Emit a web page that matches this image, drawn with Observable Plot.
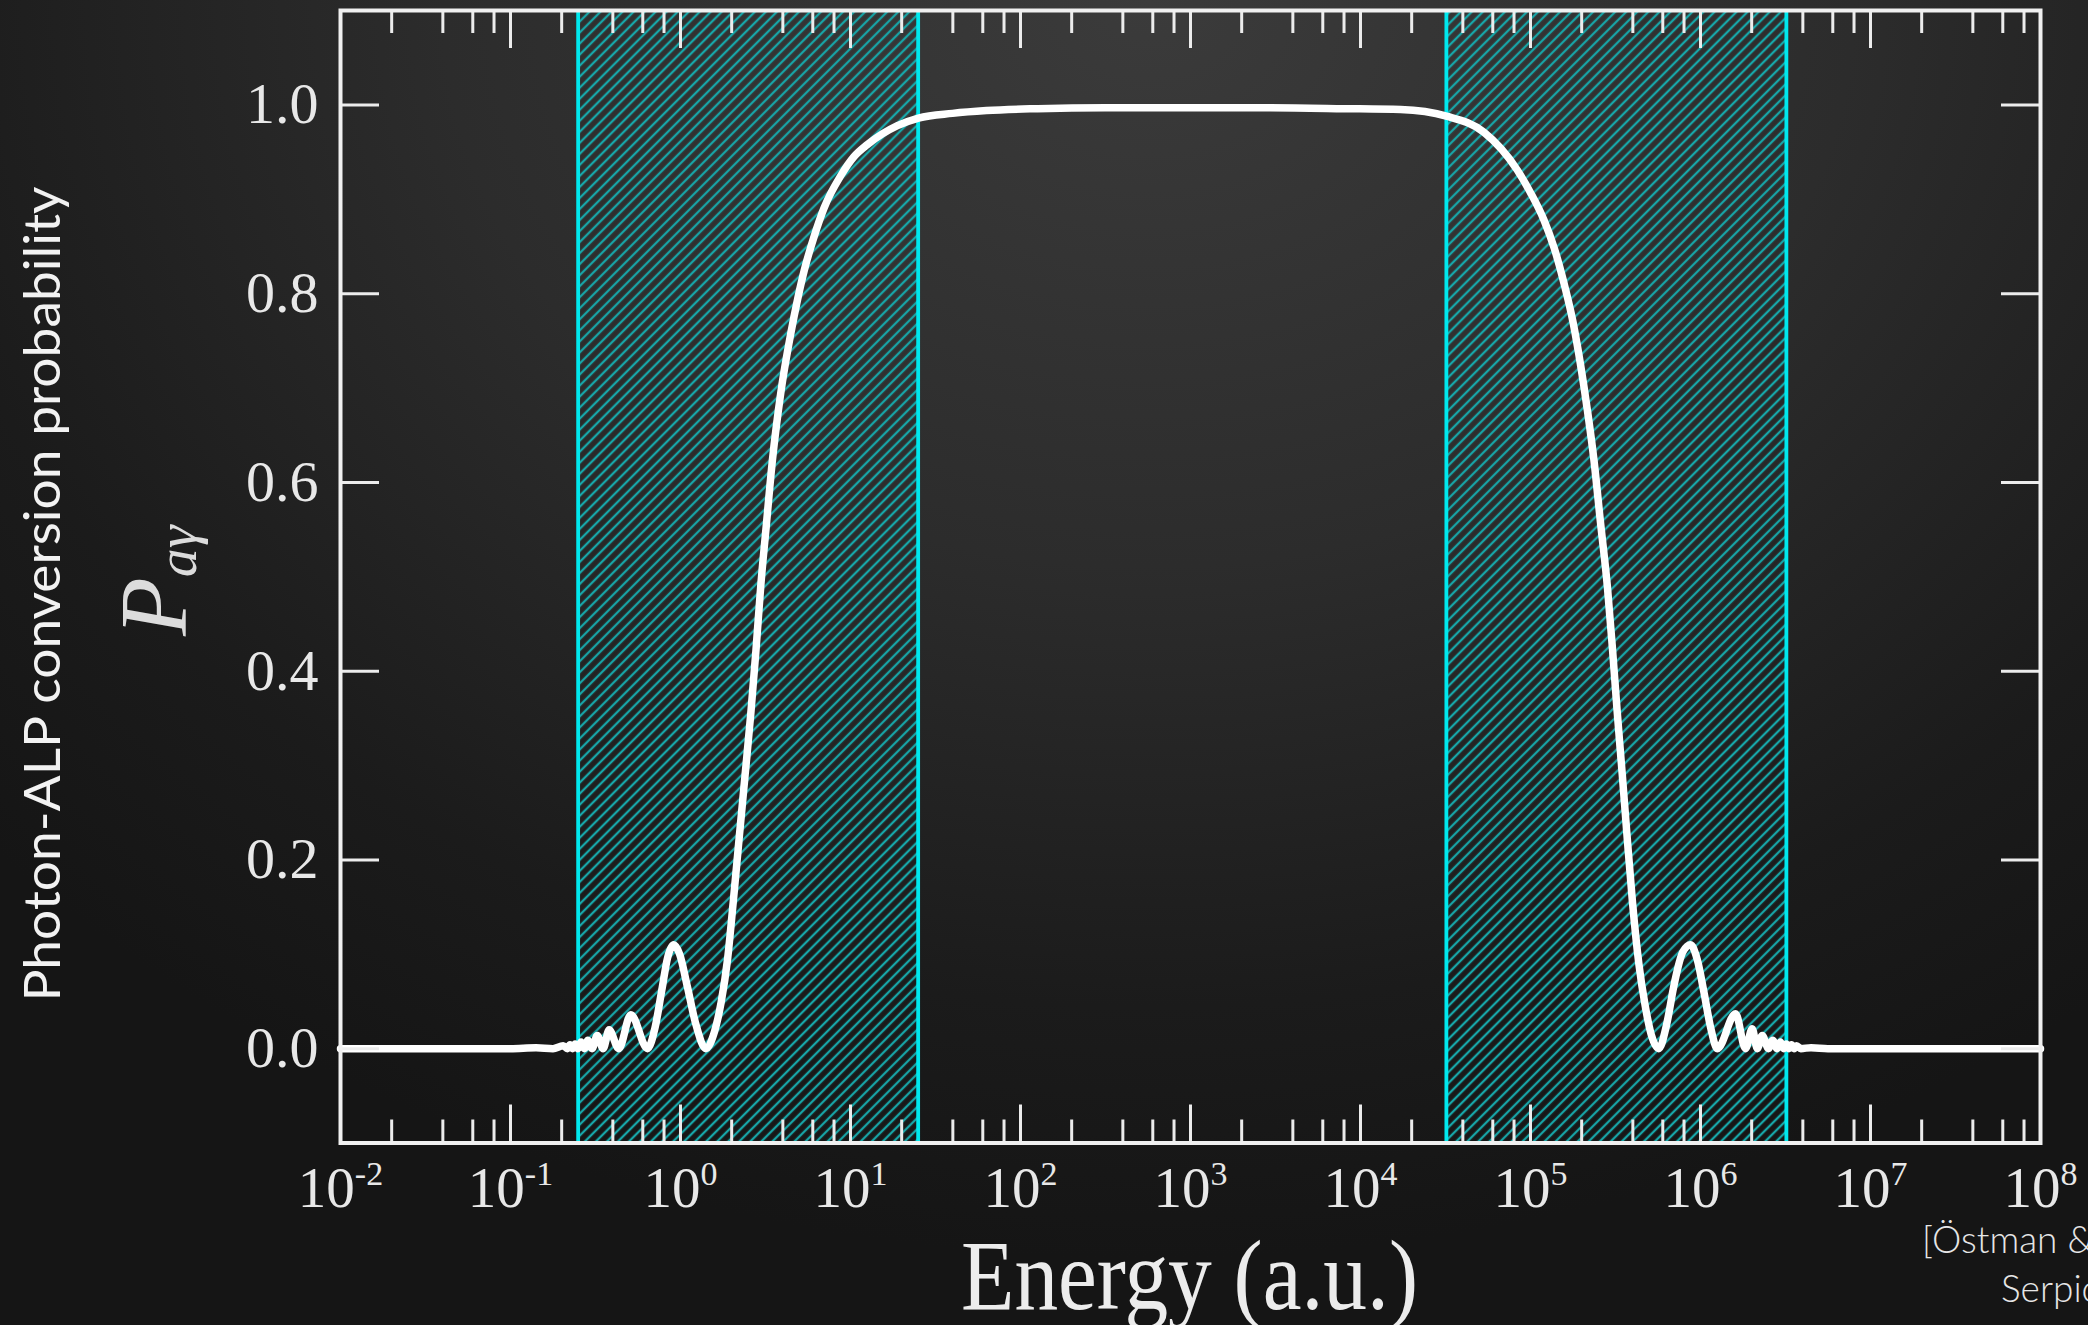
<!DOCTYPE html>
<html>
<head>
<meta charset="utf-8">
<script src="https://cdn.jsdelivr.net/npm/d3@7"></script>
<script src="https://cdn.jsdelivr.net/npm/@observablehq/plot@0.6"></script>
<style>
  html, body { margin: 0; padding: 0; }
  body {
    width: 2088px; height: 1325px; overflow: hidden; position: relative;
    background: radial-gradient(ellipse 75% 95% at 55% 0%, #3b3b3b 0%, #2c2c2c 45%, #1b1b1b 80%, #151515 100%);
  }
  #chart { position: absolute; left: 0; top: 0; }
  .cite { position: absolute; font-family: Lato, "Open Sans", sans-serif; font-weight: 300; font-size: 37px; line-height: 44px; color: #e6e6e6; white-space: nowrap; }
</style>
</head>
<body>
<div id="chart"></div>
<div class="cite" style="left:1922px; top:1217px;">[Östman &amp; Mörtsell</div>
<div class="cite" style="left:2001px; top:1266px;">Serpico]</div>
<script>
// ---- data ----
const logEnergy = [
  -2.00, -1.50, -1.00, -0.85, -0.75, -0.69, -0.665, -0.65, -0.635, -0.62, -0.603, -0.585, -0.565, -0.545, -0.52,
  -0.49, -0.455, -0.42, -0.363, -0.292, -0.194, -0.15, -0.11, -0.075, -0.040, -0.005, 0.04, 0.09, 0.149,
  0.20, 0.24, 0.277, 0.31, 0.345, 0.38, 0.414, 0.443, 0.472, 0.505, 0.541, 0.59, 0.649, 0.69, 0.727, 0.785,
  0.845, 0.943, 1.02, 1.10, 1.276, 1.40, 1.60, 1.80, 2.10, 2.50, 2.95, 3.40, 3.90, 4.236,
  4.505, 4.726, 4.922, 5.00, 5.079, 5.14, 5.197, 5.25, 5.295, 5.335, 5.373, 5.412, 5.452, 5.482, 5.510,
  5.540, 5.569, 5.60, 5.638, 5.675, 5.71, 5.755, 5.80, 5.845, 5.895, 5.942, 5.98, 6.02, 6.06, 6.099,
  6.206, 6.265, 6.304, 6.334, 6.363, 6.40, 6.425, 6.45, 6.47, 6.49, 6.505, 6.52, 6.535, 6.55, 6.565, 6.59,
  6.65, 6.75, 7.00, 8.00
];
const probability = [
  0, 0, 0, 0.001, 0.000, 0.003, 0.000, 0.004, 0.000, 0.005, 0.000, 0.007, 0.000, 0.009, 0.000,
  0.014, 0.000, 0.020, 0.000, 0.036, 0.000, 0.022, 0.062, 0.097, 0.110, 0.100, 0.066, 0.026, 0.000,
  0.018, 0.050, 0.095, 0.155, 0.223, 0.290, 0.356, 0.420, 0.490, 0.555, 0.624, 0.695, 0.758, 0.795, 0.824, 0.860,
  0.891, 0.925, 0.945, 0.958, 0.978, 0.986, 0.991, 0.994, 0.996, 0.997, 0.997, 0.997, 0.996, 0.995,
  0.988, 0.971, 0.931, 0.907, 0.878, 0.848, 0.811, 0.770, 0.724, 0.676, 0.624, 0.557, 0.490, 0.424, 0.357,
  0.290, 0.223, 0.155, 0.089, 0.045, 0.015, 0.000, 0.025, 0.068, 0.102, 0.110, 0.095, 0.060, 0.022, 0.000,
  0.037, 0.000, 0.021, 0.000, 0.014, 0.000, 0.009, 0.000, 0.007, 0.000, 0.005, 0.000, 0.004, 0.000, 0.003, 0.000,
  0.001, 0.000, 0, 0
];
const bandStart = [0.25, 3.2e4];
const bandEnd = [25, 3.2e6];
const decadeTicks = [1e-2, 1e-1, 1e0, 1e1, 1e2, 1e3, 1e4, 1e5, 1e6, 1e7, 1e8];
const minorMantissas = [2, 4, 6, 8];
const yTicks = [0, 0.2, 0.4, 0.6, 0.8, 1.0];
const xTitle = "Energy (a.u.)";
const yTitleMain = "P";
const yTitleSub = "aγ";
const sideTitle = "Photon-ALP conversion probability";

// ---- derived tables ----
const curve = logEnergy.map((l, i) => ({E: Math.pow(10, l), P: probability[i]}));
const bands = bandStart.map((s, i) => ({lo: s, hi: bandEnd[i]}));
const bandEdges = [...bandStart, ...bandEnd];
const minorTicks = decadeTicks.slice(0, -1).flatMap(d => minorMantissas.map(m => m * d));

const W = 2088, H = 1325;
const mL = 340, mR = 48, mT = 10, mB = 182.5;
const innerW = W - mL - mR, innerH = H - mT - mB;
const tickCol = "#ececec";
const majorLen = 38, minorLen = 23, yTickLen = 39;

const svg = Plot.plot({
  width: W, height: H,
  marginLeft: mL, marginRight: mR, marginTop: mT, marginBottom: mB,
  x: {type: "log", domain: [1e-2, 1e8]},
  y: {domain: [-0.1, 1.1]},
  style: {background: "transparent", color: "#e8e8e8", fontFamily: "'Liberation Serif', 'DejaVu Serif', serif", overflow: "visible"},
  marks: [
    Plot.rect(bands, {x1: "lo", x2: "hi", fill: "url(#hatch)"}),
    Plot.ruleX(bandEdges, {stroke: "#00e8ee", strokeWidth: 3.8}),
    Plot.line(curve, {x: "E", y: "P", stroke: "#ffffff", strokeWidth: 7.5, curve: "monotone-x", strokeLinejoin: "round"}),
    // bottom & top ticks (inward)
    Plot.ruleX(decadeTicks, {stroke: tickCol, strokeWidth: 3, insetTop: innerH - majorLen}),
    Plot.ruleX(minorTicks, {stroke: tickCol, strokeWidth: 3, insetTop: innerH - minorLen}),
    Plot.ruleX(decadeTicks, {stroke: tickCol, strokeWidth: 3, insetBottom: innerH - majorLen}),
    Plot.ruleX(minorTicks, {stroke: tickCol, strokeWidth: 3, insetBottom: innerH - minorLen}),
    // left & right ticks (inward)
    Plot.ruleY(yTicks, {stroke: tickCol, strokeWidth: 3, insetRight: innerW - yTickLen}),
    Plot.ruleY(yTicks, {stroke: tickCol, strokeWidth: 3, insetLeft: innerW - yTickLen}),
    Plot.frame({stroke: "#f0f0f0", strokeWidth: 4}),
    Plot.axisY({ticks: yTicks, tickSize: 0, tickPadding: 22, tickFormat: d3.format(".1f"), fontSize: 58, label: null, fill: "#e8e8e8"}),
    Plot.axisX({ticks: decadeTicks, tickSize: 0, tickPadding: 24, tickFormat: d => "10^" + Math.round(Math.log10(d)), fontSize: 57, label: null, fill: "#e8e8e8"})
  ]
});

const s = d3.select(svg);
s.insert("defs", ":first-child").html(
  `<pattern id="hatch" patternUnits="userSpaceOnUse" width="7.8" height="7.8" patternTransform="rotate(45)">
     <line x1="3.9" y1="-1" x2="3.9" y2="8.8" stroke="#17a6a8" stroke-width="2.3"/>
   </pattern>`
);

// superscript exponents on x tick labels
s.selectAll('g[aria-label="x-axis tick label"] text').each(function() {
  const t = this.textContent;
  const exp = t.split("^")[1];
  const el = d3.select(this);
  el.text("10");
  el.append("tspan").attr("dy", -22).attr("font-size", 34).text(exp);
});

// axis titles
s.append("text")
  .attr("x", 1189.5).attr("y", 1309)
  .attr("text-anchor", "middle")
  .attr("font-family", "'Liberation Serif', serif")
  .attr("font-size", 100)
  .attr("textLength", 457).attr("lengthAdjust", "spacingAndGlyphs")
  .attr("fill", "#ececec")
  .text(xTitle);

const py = s.append("text")
  .attr("transform", "translate(186,636) rotate(-90)")
  .attr("text-anchor", "start")
  .attr("font-family", "'Liberation Serif', serif")
  .attr("font-style", "italic")
  .attr("font-size", 96)
  .attr("fill", "#dcdcdc");
py.append("tspan").text(yTitleMain);
py.append("tspan").attr("dy", 10).attr("font-size", 58).text(yTitleSub);

s.append("text")
  .attr("transform", "translate(60,594) rotate(-90)")
  .attr("text-anchor", "middle")
  .attr("font-family", "Lato, 'Open Sans', sans-serif")
  .attr("font-size", 50)
  .attr("textLength", 815).attr("lengthAdjust", "spacingAndGlyphs")
  .attr("fill", "#f2f2f2")
  .text(sideTitle);

document.getElementById("chart").appendChild(svg);
</script>
</body>
</html>
